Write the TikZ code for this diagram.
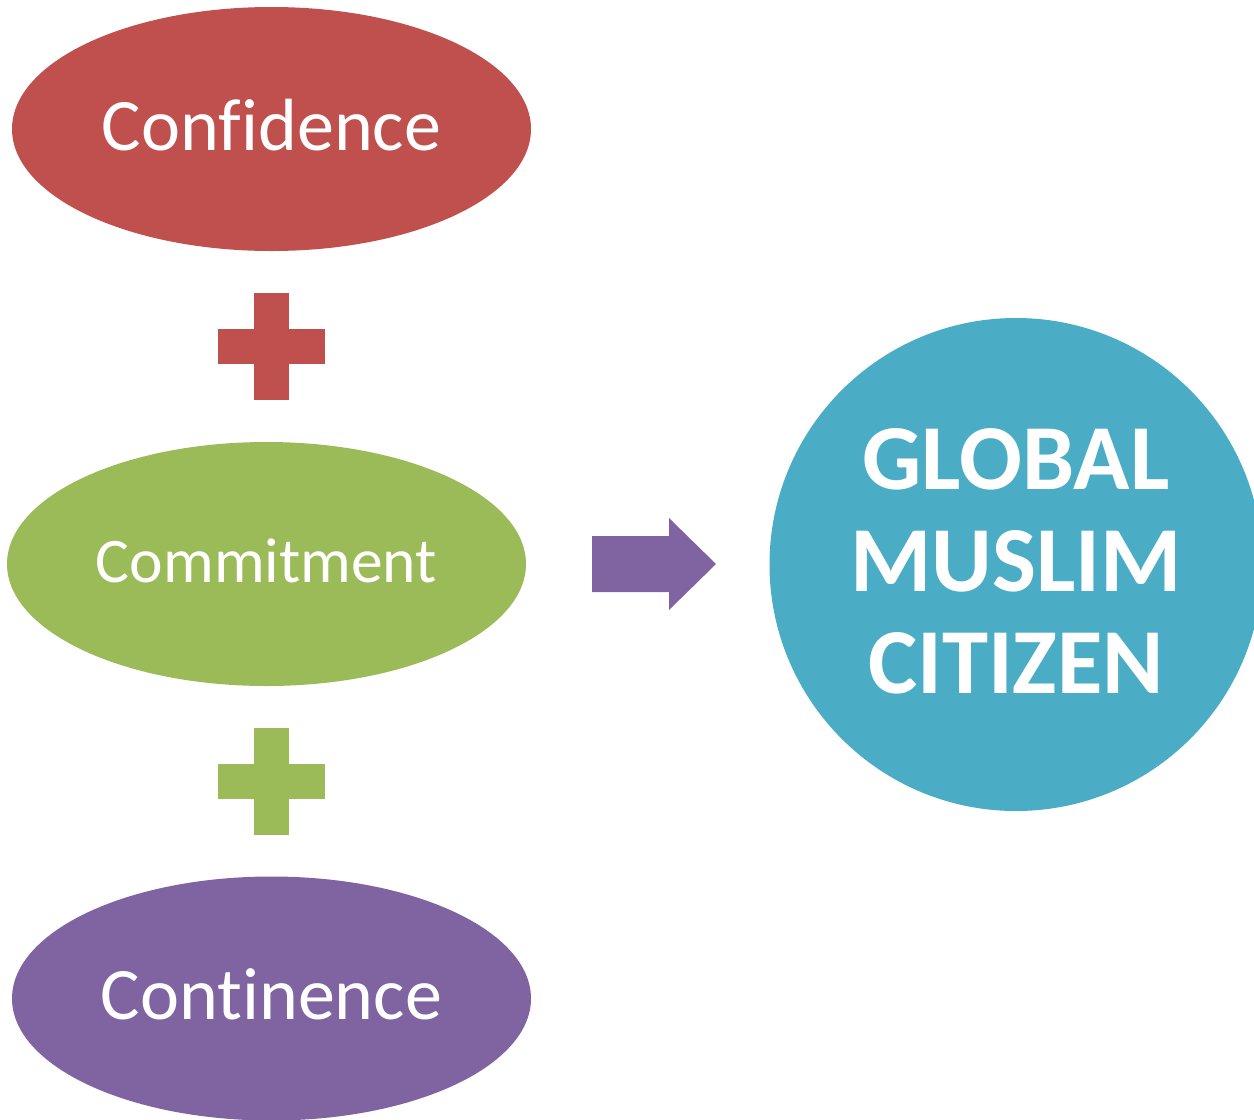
\documentclass[tikz,border=0pt]{standalone}
\usepackage{fontspec}
\setmainfont{Carlito}[Ligatures={NoCommon}]
\usetikzlibrary{shapes.geometric}
\definecolor{confred}{HTML}{C0504D}
\definecolor{commgreen}{HTML}{9BBB59}
\definecolor{contpurple}{HTML}{8064A2}
\definecolor{citblue}{HTML}{4BACC6}
\begin{document}
\begin{tikzpicture}[x=1pt,y=-1pt,
  oval/.style={ellipse,draw=none,inner sep=0pt,minimum width=519pt,minimum height=244pt,text=white},
  bigword/.style={font=\fontsize{74}{80}\selectfont,text depth=8pt},
  midword/.style={font=\fontsize{63.5}{70}\selectfont,text depth=6pt},
  ]
\useasboundingbox (0,0) rectangle (1254,1120);
%%
\node (node_conf) at (271.5,129) [oval,fill=confred,bigword] {Confidence};
  \node (node_comm) at (266.5,564) [oval,fill=commgreen,midword] {Commitment};
  \node (node_cont) at (271.5,998.5) [oval,fill=contpurple,bigword] {Continence};
  \node (node_cit) at (1016,564.5) [circle,draw=none,fill=citblue,inner sep=0pt,minimum size=493pt,
    text=white,align=center,text depth=8pt,font=\bfseries\fontsize{93}{102}\selectfont] {GLOBAL\\MUSLIM\\CITIZEN};
  %% plus signs
  \fill [confred] (254,293) rectangle (289,400);
  \fill [confred] (218,329) rectangle (325,364);
  \fill [commgreen] (254,728) rectangle (289,835);
  \fill [commgreen] (218,764) rectangle (325,799);
  %% block arrow
  \fill [contpurple] (592,536) -- (669,536) -- (669,518) -- (716,564) -- (669,610) -- (669,592) -- (592,592) -- cycle;
%
\end{tikzpicture}
\end{document}
